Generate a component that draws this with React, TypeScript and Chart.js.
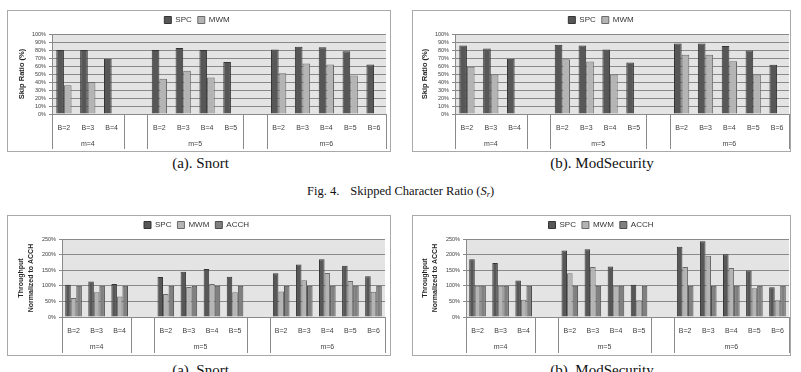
import React, { useEffect, useRef } from "react";
import { Chart, registerables } from "chart.js";

Chart.register(...registerables);

const FONT = "'Liberation Sans', Arial, Helvetica, sans-serif";
const SERIF = "'Liberation Serif', 'Times New Roman', Times, serif";

// ---------------- data ----------------
const bLabels = ["B=2", "B=3", "B=4", "", "B=2", "B=3", "B=4", "B=5", "", "B=2", "B=3", "B=4", "B=5", "B=6"];
const mLabels = ["m=4", "m=5", "m=6"];
const mFirst = [0, 4, 9];
const mLast = [2, 7, 13];

const names2 = ["SPC", "MWM"];
const names3 = ["SPC", "MWM", "ACCH"];

const snortSkipSPC = [80, 80, 69, null, 80, 82.5, 80, 65, null, 80.5, 84, 83.5, 78.5, 62];
const snortSkipMWM = [36, 40, null, null, 44, 54, 45.5, null, null, 51, 63, 62, 48, null];

const modsecSkipSPC = [85.5, 82, 69, null, 86.5, 85.5, 80.5, 64.5, null, 88, 88, 85, 79.5, 61.5];
const modsecSkipMWM = [59, 49.5, null, null, 68.5, 65.5, 49.5, null, null, 74, 74, 66, 49.5, null];

const snortThrSPC = [103, 114, 106, null, 128, 145, 154, 129, null, 140, 168, 185, 164, 131];
const snortThrMWM = [61, 79, 66, null, 73.5, 96, 106, 79, null, 82, 118, 141, 115, 81];
const snortThrACCH = [100, 100, 100, null, 100, 100, 100, 100, null, 100, 100, 100, 100, 100];

const modsecThrSPC = [185, 173, 117, null, 213, 217, 162, 103, null, 225, 243, 201, 149, 95];
const modsecThrMWM = [100, 100, 55, null, 140, 160, 100, 54, null, 160, 196, 157, 92, 54];
const modsecThrACCH = [100, 100, 100, null, 100, 100, 100, 100, null, 100, 100, 100, 100, 100];

const skipAxis = { min: 0, max: 100, step: 10 };
const thrAxis = { min: 0, max: 250, step: 50 };

// ---------------- styles ----------------
const fills = ["#575757", "#b4b4b4", "#808080"];
const strokes = ["#353535", "#6a6a6a", "#4c4c4c"];
const GRID = "#8a8a8a";
const PLOT_BG = "#e4e4e4";
const TEXT = "#404040";

const groupPlugin = {
  id: "groups",
  beforeDraw(chart: any) {
    const { ctx, chartArea: a } = chart;
    ctx.save();
    ctx.fillStyle = PLOT_BG;
    ctx.fillRect(a.left, a.top, a.right - a.left, a.bottom - a.top);
    ctx.restore();
  },
  afterDraw(chart: any, _args: any, opts: any) {
    const { ctx, chartArea: a } = chart;
    const x = chart.scales.x;
    ctx.save();
    ctx.strokeStyle = GRID;
    ctx.lineWidth = 1;
    ctx.fillStyle = TEXT;
    ctx.font = `7px ${FONT}`;
    ctx.textAlign = "center";
    ctx.textBaseline = "middle";
    mLabels.forEach((lab, i) => {
      const l = x.getPixelForValue(mFirst[i] - 0.5);
      const r = x.getPixelForValue(mLast[i] + 0.5);
      [l, r].forEach((px) => {
        const xx = Math.round(px) + 0.5;
        ctx.beginPath();
        ctx.moveTo(xx, a.bottom);
        ctx.lineTo(xx, opts.lineBottom);
        ctx.stroke();
      });
      ctx.fillText(lab, (l + r) / 2, opts.labelY);
    });
    ctx.restore();
  },
};

function Panel(p: any) {
  const ref = useRef<HTMLCanvasElement>(null);
  useEffect(() => {
    const chart = new Chart(ref.current as HTMLCanvasElement, {
      type: "bar",
      data: {
        labels: bLabels,
        datasets: p.series.map((d: any, i: number) => ({
          label: p.names[i],
          data: d,
          backgroundColor: fills[i],
          borderColor: strokes[i],
          borderWidth: 1,
          categoryPercentage: p.catPct,
          barPercentage: 1,
        })),
      },
      options: {
        animation: false,
        responsive: false,
        devicePixelRatio: 1,
        layout: { padding: { top: p.padTop, right: p.padRight, bottom: 0, left: 0 } },
        plugins: {
          legend: {
            position: "top",
            labels: {
              boxWidth: 7,
              boxHeight: 7,
              padding: 6,
              color: "#333",
              font: { size: 8, family: FONT },
            },
          },
          tooltip: { enabled: false },
          groups: { labelY: p.groupLabelY, lineBottom: p.sepBottom },
        } as any,
        scales: {
          x: {
            grid: { display: false },
            border: { display: true, color: GRID },
            ticks: {
              autoSkip: false,
              maxRotation: 0,
              minRotation: 0,
              padding: p.tickPad,
              color: TEXT,
              font: { size: 7, family: FONT },
            },
            afterFit: (s: any) => {
              s.height = p.xHeight;
            },
          },
          y: {
            min: p.axis.min,
            max: p.axis.max,
            ticks: {
              stepSize: p.axis.step,
              autoSkip: false,
              padding: 3,
              color: TEXT,
              font: { size: 5.5, family: FONT },
              callback: (v: any) => v + "%",
            },
            grid: { color: GRID, lineWidth: 1, tickLength: 3 },
            border: { display: true, color: GRID },
            title: {
              display: true,
              text: p.title,
              color: "#262626",
              font: { size: p.titleSize, weight: "bold", family: FONT, lineHeight: p.titleLH },
              padding: { top: p.titlePad, bottom: 0 },
            },
            afterFit: (s: any) => {
              s.width = p.yWidth;
            },
          },
        },
      } as any,
      plugins: [groupPlugin as any],
    });
    return () => chart.destroy();
  }, []);
  return (
    <div
      style={{
        position: "absolute",
        left: p.left - 1,
        top: p.top - 1,
        width: p.width,
        height: p.height,
        border: "1px solid #a9a9a9",
        background: "#fff",
      }}
    >
      <canvas ref={ref} width={p.width} height={p.height} style={{ display: "block", width: p.width, height: p.height }} />
    </div>
  );
}

const capStyle: any = {
  position: "absolute",
  fontFamily: SERIF,
  fontSize: 15,
  lineHeight: "15px",
  color: "#111",
  textAlign: "center",
  whiteSpace: "pre",
};

export default function App() {
  const topCommon = {
    height: 140,
    padTop: -1,
    xHeight: 37,
    tickPad: 1.5,
    groupLabelY: 133,
    sepBottom: 138,
    title: "Skip Ratio (%)",
    titleSize: 7.5,
    titleLH: 1.2,
    catPct: 0.64,
    axis: skipAxis,
    names: names2,
  };
  const botCommon = {
    height: 139,
    padTop: -1,
    xHeight: 38,
    tickPad: 1.5,
    groupLabelY: 131,
    sepBottom: 137,
    title: ["Throughput", "Normalized to ACCH"],
    titleSize: 7,
    titleLH: 10 / 7,
    catPct: 0.72,
    axis: thrAxis,
    names: names3,
  };
  return (
    <div style={{ position: "absolute", left: 0, top: 0, width: 801, height: 372, background: "#fff", overflow: "hidden" }}>
      <Panel {...topCommon} left={8} top={11} width={382} yWidth={44} padRight={4} titlePad={9.2}
        series={[snortSkipSPC, snortSkipMWM]} />
      <Panel {...topCommon} left={413} top={11} width={377} yWidth={42} padRight={1} titlePad={7.5}
        series={[modsecSkipSPC, modsecSkipMWM]} />
      <Panel {...botCommon} left={8} top={216} width={382} yWidth={54} padRight={5} titlePad={8}
        series={[snortThrSPC, snortThrMWM, snortThrACCH]} />
      <Panel {...botCommon} left={413} top={216} width={377} yWidth={53} padRight={1} titlePad={7}
        series={[modsecThrSPC, modsecThrMWM, modsecThrACCH]} />

      <div style={{ ...capStyle, left: 0, width: 401, top: 156.4 }}>(a). Snort</div>
      <div style={{ ...capStyle, left: 402, width: 400, top: 156.4 }}>(b). ModSecurity</div>
      <div
        style={{
          position: "absolute",
          left: 307,
          top: 185.2,
          fontFamily: SERIF,
          fontSize: 12.5,
          lineHeight: "12.5px",
          color: "#111",
          whiteSpace: "nowrap",
        }}
      >
        <span>Fig. 4.</span>
        <span style={{ marginLeft: 11 }}>
          Skipped Character Ratio (<i>S</i>
          <i style={{ fontSize: 8.5, position: "relative", top: 2 }}>r</i>)
        </span>
      </div>
      <div style={{ ...capStyle, left: 0, width: 401, top: 362.9 }}>(a). Snort</div>
      <div style={{ ...capStyle, left: 402, width: 400, top: 362.9 }}>(b). ModSecurity</div>
    </div>
  );
}
